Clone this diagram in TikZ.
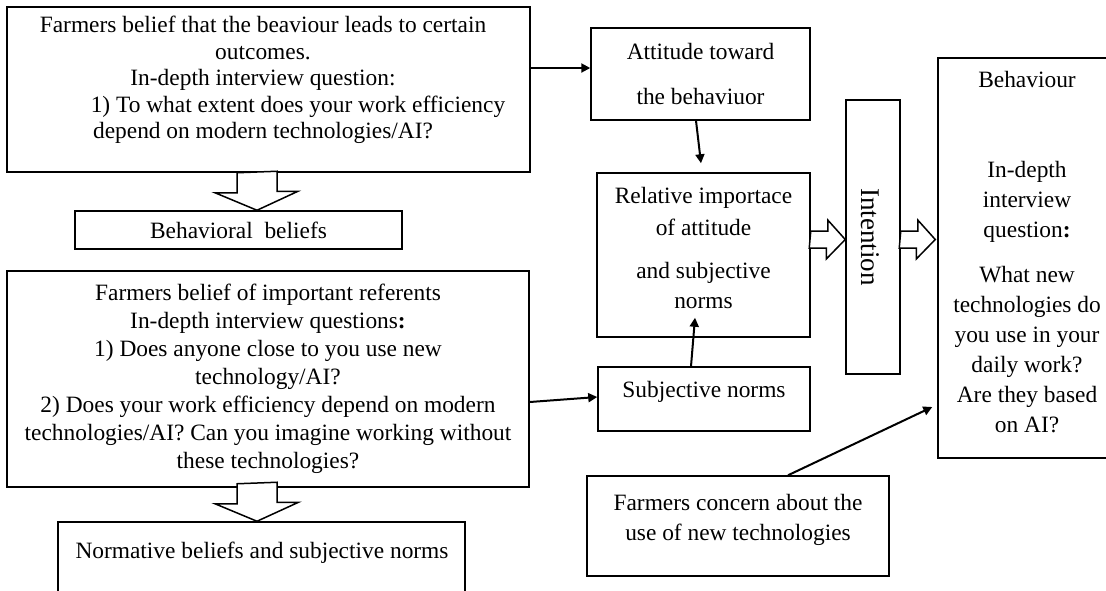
\documentclass[tikz,border=0pt]{standalone}
\usepackage{fontspec}
\setmainfont{Liberation Serif}
\usetikzlibrary{arrows.meta}

\begin{document}
\begin{tikzpicture}[x=0.5pt, y=-0.5pt, font=\fontsize{11.7}{14}\selectfont,
        box/.style={draw, line width=0.75pt, inner sep=0pt},
        txt/.style={align=center, inner sep=0pt},
        arr/.style={-{Triangle[length=4.5pt,width=4.5pt]}, line width=1pt},
        blockarr/.style={draw, fill=white, line width=0.75pt, line join=miter}]
        \useasboundingbox (0,0) rectangle (1106,590);

        % left column
        \node[box, minimum width=261.5pt, minimum height=82.5pt] (b1) at (268.5,89.5) {};
        \node[txt, font=\fontsize{11.7}{13.25}\selectfont] (b1txt) at (263,80) {Farmers belief that the beaviour leads to certain\\ outcomes.\\ In-depth interview question:\\ \hspace*{35pt}1) To what extent does your work efficiency\\ depend on modern technologies/AI?};
        \node[box, txt, minimum width=163.5pt, minimum height=19pt] (bb) at (238.5,230) {Behavioral\ \ beliefs};
        \node[box, txt, minimum width=261pt, minimum height=108pt] (b3) at (268,379) {Farmers belief of important referents\\ In-depth interview questions\textbf{:}\\ 1) Does anyone close to you use new\\ technology/AI?\\ 2) Does your work efficiency depend on modern\\ technologies/AI? Can you imagine working without\\ these technologies?};
        \node[box, minimum width=203.5pt, minimum height=39pt] (nb) at (261.5,561) {};
        \node[txt] (nbtxt) at (262,553) {Normative beliefs and subjective norms};

        % middle column
        \node[box, txt, minimum width=109.5pt, minimum height=46pt] (att) at (700.5,74) {Attitude toward\\[8.5pt] the behaviuor};
        \node[box, minimum width=106.5pt, minimum height=82pt] (rel) at (703.5,255) {};
        \node[txt] (reltxt) at (703.5,247.5) {Relative importace\\[2pt] of attitude\\[7.5pt] and subjective\\[1pt] norms};
        \node[box, minimum width=106pt, minimum height=32pt] (subj) at (704,399) {};
        \node[txt] (subjtxt) at (704,392) {Subjective norms};
        \node[box, minimum width=151pt, minimum height=50pt] (conc) at (738,526) {};
        \node[txt, font=\fontsize{11.7}{15}\selectfont] (conctxt) at (738,520) {Farmers concern about the\\ use of new technologies};

        % right column
        \node[box, minimum width=27pt, minimum height=137pt] (intent) at (873,237) {};
        \node[txt, rotate=-90, font=\fontsize{13.5}{16}\selectfont] (intenttxt) at (870,237) {Intention};
        \node[box, minimum width=89pt, minimum height=200pt] (beh) at (1027,258) {};
        \node[txt, font=\fontsize{11.7}{15}\selectfont] (behtxt) at (1027,252.5) {Behaviour\\[30pt] In-depth\\ interview\\ question\textbf{:}\\[7.5pt] What new\\ technologies do\\ you use in your\\ daily work?\\ Are they based\\ on AI?};

        % arrows
        \coordinate (a1) at ([yshift=3pt]att.west);
        \draw[arr] (a1 -| b1.east) -- (a1);
        \draw[arr] ([xshift=-2.25pt]att.south) -- ([xshift=-1.25pt,yshift=4.5pt]rel.north);
        \draw[arr] ([xshift=-6.5pt]subj.north) -- ([xshift=-4.25pt,yshift=10pt]rel.south);
        \draw[arr] ([yshift=-11.5pt]b3.east) -- ([yshift=1pt]subj.west);
        \draw[arr] ([xshift=25pt]conc.north) -- ([xshift=-2.5pt,yshift=-74.5pt]beh.west);

        % hollow arrows
        \draw[blockarr] ([xshift=-15.75pt]b1.south) -- ++(0,-10pt) -- ++(-11pt,0) -- ([xshift=9.25pt]bb.north) -- ++(20.5pt,9.5pt) -- ++(-10.5pt,0) -- ++(0,10pt) -- cycle;
        \draw[blockarr] ([xshift=-15.5pt,yshift=2pt]b3.south) -- ++(0,-10pt) -- ++(-11pt,0) -- ([xshift=-2.25pt]nb.north) -- ++(20.75pt,9.5pt) -- ++(-10.75pt,0) -- ++(0,10pt) -- cycle;
        \draw[blockarr] ([yshift=12pt]rel.east) -- ++(8.5pt,0) -- ++(0,5.5pt) -- ([yshift=-1.25pt]intent.west) -- ++(-9.5pt,-9.75pt) -- ++(0,5.5pt) -- ++(-8.5pt,0) -- cycle;
        \draw[blockarr] ([yshift=3pt]intent.east) -- ++(8.5pt,0) -- ++(0,5.5pt) -- ([xshift=-1pt,yshift=9.25pt]beh.west) -- ++(-9.5pt,-9.75pt) -- ++(0,5.5pt) -- ++(-8.5pt,0) -- cycle;
    \end{tikzpicture}
\end{document}
